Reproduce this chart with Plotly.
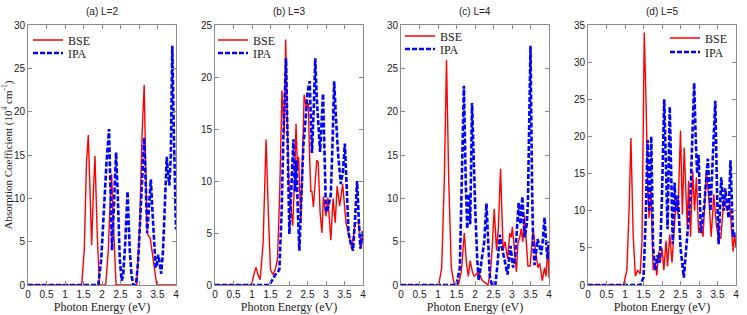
import plotly.graph_objects as go

W, H = 747, 315

# ---------------- data (photon energy eV, absorption 10^4 cm^-1) ----------------
a_bse_x = [0, 1.45, 1.52, 1.58, 1.63, 1.68, 1.72, 1.77, 1.81, 1.87, 1.93, 2.10, 2.17, 2.22, 2.26, 2.31, 2.38, 2.94, 3.02, 3.08, 3.14, 3.18, 3.22, 3.27, 3.30, 3.35, 3.43, 3.48, 4.0]
a_bse_y = [0, 0, 4, 14, 17.3, 9, 4.6, 11, 14.9, 6, 0, 0, 4, 9.5, 12.8, 7, 0, 0, 7, 17, 23.1, 14, 6, 5.6, 5.5, 4, 1.7, 0, 0]
a_ipa_x = [0, 1.90, 1.98, 2.05, 2.12, 2.19, 2.23, 2.27, 2.32, 2.38, 2.43, 2.48, 2.53, 2.57, 2.63, 2.69, 2.75, 2.80, 2.85, 2.92, 2.98, 3.05, 3.10, 3.14, 3.18, 3.22, 3.27, 3.32, 3.37, 3.41, 3.45, 3.49, 3.52, 3.56, 3.60, 3.65, 3.70, 3.75, 3.78, 3.82, 3.86, 3.90, 3.94, 4.0]
a_ipa_y = [0, 0, 3, 9, 14, 18, 9, 4, 9, 15.3, 10, 3, 0.5, 1, 5, 10.8, 4, 1, 0, 0, 3, 9, 13, 17, 12, 6, 9, 12.2, 8, 4, 2, 2.5, 3.5, 2.5, 1.3, 4, 9, 14.8, 13, 11.5, 15, 27.6, 18, 6.4]

b_bse_x = [0, 0.99, 1.05, 1.11, 1.16, 1.22, 1.30, 1.38, 1.45, 1.50, 1.56, 1.63, 1.69, 1.75, 1.81, 1.87, 1.91, 1.95, 1.99, 2.05, 2.10, 2.15, 2.19, 2.23, 2.26, 2.32, 2.37, 2.41, 2.47, 2.52, 2.56, 2.59, 2.62, 2.66, 2.71, 2.75, 2.79, 2.84, 2.89, 2.93, 3.00, 3.05, 3.13, 3.19, 3.25, 3.30, 3.37, 3.45, 3.54, 3.61, 3.70, 3.79, 3.88, 3.95, 4.0]
b_bse_y = [0, 0, 1, 1.7, 1, 0.5, 4, 14, 6, 1.5, 1, 1.5, 2.5, 9, 18.7, 14.5, 23.6, 16, 10, 7.5, 5.7, 10, 15.5, 11, 12.3, 6, 12, 18.3, 17, 17.5, 12, 9, 9, 7.5, 10, 12, 11.8, 7, 5, 8.5, 6.6, 8.4, 4.3, 8.3, 6, 9.5, 7.6, 9.7, 6, 5, 3.5, 6, 6, 3.5, 5.2]
b_ipa_x = [0, 1.47, 1.55, 1.63, 1.69, 1.74, 1.80, 1.85, 1.92, 1.97, 2.01, 2.06, 2.12, 2.16, 2.20, 2.24, 2.28, 2.33, 2.39, 2.45, 2.50, 2.56, 2.62, 2.67, 2.71, 2.75, 2.80, 2.84, 2.92, 2.96, 3.00, 3.06, 3.13, 3.18, 3.22, 3.27, 3.33, 3.40, 3.46, 3.51, 3.56, 3.61, 3.67, 3.73, 3.78, 3.84, 3.89, 3.93, 4.0]
b_ipa_y = [0, 0, 0.5, 1, 1.2, 1.5, 7, 14.5, 21.8, 12, 4.9, 9, 14, 9, 12, 7, 3.3, 8, 13.5, 16, 18.5, 19.6, 12.7, 17, 21.8, 18, 15, 12.8, 18.4, 12, 7, 7.5, 8.7, 14, 19.6, 16, 12.5, 9.7, 11, 13.6, 9, 5, 4, 3.3, 6, 10, 6, 3.5, 5.3]

c_bse_x = [0, 1.02, 1.10, 1.17, 1.23, 1.29, 1.36, 1.44, 1.55, 1.63, 1.71, 1.77, 1.82, 1.87, 1.93, 1.98, 2.09, 2.20, 2.35, 2.42, 2.46, 2.52, 2.58, 2.63, 2.69, 2.73, 2.76, 2.81, 2.88, 2.94, 2.98, 3.01, 3.07, 3.12, 3.16, 3.21, 3.25, 3.29, 3.34, 3.38, 3.43, 3.49, 3.57, 3.62, 3.70, 3.75, 3.82, 3.88, 3.92, 3.97, 4.0]
c_bse_y = [0, 0, 2, 12, 26, 12, 2, 0, 0, 1.5, 6, 2.5, 1, 2.8, 1.5, 1, 1.5, 0.5, 0, 1.5, 4, 8.8, 4, 6.5, 13.4, 7, 4, 5, 3, 6, 5.5, 6.7, 4, 1.5, 4.8, 5.5, 6.5, 5, 8, 5, 2.2, 2.2, 6.5, 4.5, 2, 2.5, 0.5, 2, 1, 4.5, 0.8]
c_ipa_x = [0, 1.50, 1.59, 1.65, 1.70, 1.75, 1.79, 1.83, 1.87, 1.92, 1.97, 2.01, 2.06, 2.10, 2.15, 2.20, 2.25, 2.31, 2.36, 2.40, 2.46, 2.55, 2.61, 2.67, 2.72, 2.80, 2.88, 2.96, 3.03, 3.08, 3.13, 3.18, 3.23, 3.28, 3.34, 3.40, 3.43, 3.47, 3.50, 3.54, 3.57, 3.61, 3.69, 3.74, 3.79, 3.84, 3.88, 3.92, 3.96, 4.0]
c_ipa_y = [0, 0, 2, 12, 23, 12, 6.5, 10.5, 7, 21, 13, 8.3, 3, 0.5, 2, 3.5, 5, 9.4, 4, 1, 0, 0, 2.5, 5.8, 4.5, 3, 1.2, 4.5, 2, 3, 6, 9.5, 7, 10.2, 5.5, 7, 9.5, 18, 27.6, 12, 5, 2.3, 5.3, 4.5, 3.5, 5.5, 7.8, 5, 3, 5]

d_bse_x = [0, 0.96, 1.05, 1.11, 1.16, 1.19, 1.22, 1.28, 1.34, 1.41, 1.46, 1.49, 1.52, 1.57, 1.61, 1.65, 1.70, 1.76, 1.82, 1.86, 1.91, 1.95, 2.00, 2.05, 2.11, 2.15, 2.21, 2.27, 2.33, 2.39, 2.43, 2.50, 2.55, 2.60, 2.68, 2.72, 2.77, 2.83, 2.88, 2.93, 2.99, 3.04, 3.11, 3.20, 3.26, 3.33, 3.40, 3.47, 3.53, 3.59, 3.67, 3.76, 3.83, 3.87, 3.92, 3.96, 4.0]
d_bse_y = [0, 0, 2, 10, 19.8, 10, 6.8, 1.2, 2, 1.5, 6, 20, 34, 24.5, 14, 9, 13, 2, 3, 1.3, 4.5, 3, 5, 2, 6, 2.5, 6.8, 3, 7.6, 12, 9.5, 20.8, 9.5, 18.5, 8, 14, 6.5, 15.3, 10, 14.5, 7, 8, 6.5, 15.5, 12, 6.5, 12.2, 8, 6.5, 6.3, 11.5, 10, 11, 7.5, 4.5, 7, 5]
d_ipa_x = [0, 1.41, 1.50, 1.56, 1.61, 1.66, 1.71, 1.76, 1.82, 1.88, 1.94, 2.00, 2.06, 2.11, 2.15, 2.21, 2.25, 2.29, 2.34, 2.38, 2.43, 2.50, 2.59, 2.66, 2.72, 2.77, 2.82, 2.87, 2.91, 2.95, 2.99, 3.05, 3.10, 3.14, 3.19, 3.24, 3.31, 3.37, 3.44, 3.49, 3.53, 3.60, 3.67, 3.71, 3.76, 3.80, 3.85, 3.92, 3.96, 4.0]
d_ipa_y = [0, 0, 1, 9, 19.5, 10, 20, 5, 2, 4, 3, 12, 25, 13, 7.5, 24, 12, 5.5, 13.8, 10, 12, 5, 1, 5, 8, 12, 20, 27.2, 20, 15, 17.5, 7, 9, 10.5, 14, 17, 10, 16, 24.8, 12, 5.5, 14.5, 10, 13, 11, 9, 16.8, 6.5, 7, 6.5]

titles = ["(a) L=2", "(b) L=3", "(c) L=4", "(d) L=5"]
y_max = [30, 25, 30, 35]
series_names = ["BSE", "IPA"]

panels = [
    (a_bse_x, a_bse_y, a_ipa_x, a_ipa_y),
    (b_bse_x, b_bse_y, b_ipa_x, b_ipa_y),
    (c_bse_x, c_bse_y, c_ipa_x, c_ipa_y),
    (d_bse_x, d_bse_y, d_ipa_x, d_ipa_y),
]

# ---------------- layout geometry (pixel coords) ----------------
px_left = [28, 215, 401, 588]
px_w = 148
y_top, y_bot = 25, 285
# legend line start x, BSE row y, IPA row y
legend_px = [(34, 40, 53), (219, 40, 53), (406, 36, 49), (671, 38, 52)]

SERIF = "Liberation Serif"
SANS = "Liberation Sans"


def fx(px):
    return px / W


def fy(py):
    return 1 - py / H


fig = go.Figure()
layout = dict(
    width=W, height=H,
    margin=dict(l=0, r=0, t=0, b=0, autoexpand=False),
    paper_bgcolor="white", plot_bgcolor="white",
    annotations=[],
    showlegend=True,
)

leg_idx = 0
for i, (bx, by, ix, iy) in enumerate(panels):
    n = "" if i == 0 else str(i + 1)
    xa, ya = "x" + n, "y" + n
    lx, ly_bse, ly_ipa = legend_px[i]
    styles = [dict(color="#ff0000", width=1.4),
              dict(color="#0000ff", width=2.6, dash="5px,2px")]
    for (sx, sy), name, st, ly in zip([(bx, by), (ix, iy)], series_names, styles, [ly_bse, ly_ipa]):
        leg_idx += 1
        leg = "legend" if leg_idx == 1 else "legend" + str(leg_idx)
        fig.add_trace(go.Scatter(x=sx, y=sy, mode="lines", name=name, line=st,
                                 xaxis=xa, yaxis=ya, legend=leg))
        layout[leg] = dict(x=fx(lx - 6), y=fy(ly), xanchor="left", yanchor="middle",
                           bgcolor="rgba(0,0,0,0)", borderwidth=0,
                           font=dict(family=SERIF, size=12, color="#222222"),
                           itemwidth=30)
    axcommon = dict(showline=True, linecolor="#8c8c8c", linewidth=1, mirror="ticks",
                    ticks="inside", ticklen=4, tickcolor="#8c8c8c", showgrid=False,
                    zeroline=False, automargin=False,
                    tickfont=dict(family=SANS, size=10, color="#222222"))
    layout["xaxis" + n] = dict(domain=[fx(px_left[i]), fx(px_left[i] + px_w)],
                               range=[0, 4], dtick=0.5, tick0=0, anchor=ya,
                               title=dict(text="Photon Energy (eV)", standoff=0,
                                          font=dict(family=SERIF, size=12, color="#222222")),
                               **axcommon)
    layout["yaxis" + n] = dict(domain=[fy(y_bot), fy(y_top)],
                               range=[0, y_max[i]], dtick=5, anchor=xa,
                               **axcommon)
    layout["annotations"].append(dict(
        text=titles[i], x=fx(px_left[i] + px_w / 2), y=fy(12),
        xref="paper", yref="paper", showarrow=False, xanchor="center", yanchor="middle",
        font=dict(family=SANS, size=10, color="#222222")))

layout["yaxis"]["title"] = dict(text="Absorption Coefficient (10<sup>4</sup> cm<sup>-1</sup>)",
                                standoff=4,
                                font=dict(family=SERIF, size=11, color="#222222"))

fig.update_layout(**layout)
fig.write_html("out.html", config={"displayModeBar": False},
               post_script="document.body.style.margin='0px';")
